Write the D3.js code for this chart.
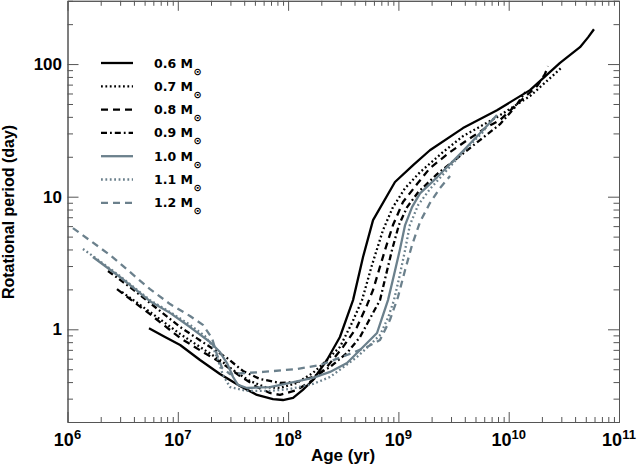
<!DOCTYPE html>
<html><head><meta charset="utf-8">
<script src="https://cdn.jsdelivr.net/npm/d3@7"></script>
<style>
body{margin:0;background:#fff}
svg{display:block}
text{font-family:"Liberation Sans",Arial,Helvetica,sans-serif;font-weight:bold;fill:#000}
</style>
</head><body>
<svg id="chart" width="638" height="465"></svg>
<script>
// ---- data (age in yr, rotational period in days) ----
const masses = ["0.6", "0.7", "0.8", "0.9", "1.0", "1.1", "1.2"];

const age06 = [5.48e6,7.66e6,1.05e7,1.59e7,2.41e7,3.66e7,5.22e7,7.29e7,8.99e7,1.11e8,1.36e8,1.68e8,2.25e8,2.95e8,3.88e8,4.78e8,5.89e8,9.31e8,1.36e9,1.93e9,3.85e9,7.83e9,1.56e10,2.92e10,4.43e10,5.24e10,5.93e10];
const per06 = [1.02,0.875,0.762,0.587,0.460,0.374,0.320,0.298,0.293,0.304,0.349,0.415,0.587,0.875,1.66,3.51,6.66,12.9,17.3,22.4,32.9,44.9,63.6,102,134,159,183];

const age07 = [3.12e6,5.60e6,1.05e7,1.59e7,2.41e7,3.44e7,4.51e7,6.17e7,8.44e7,1.20e8,1.68e8,2.16e8,2.95e8,3.80e8,4.68e8,5.76e8,7.25e8,8.93e8,1.15e9,1.57e9,2.54e9,3.85e9,7.83e9,1.56e10,2.37e10,3.04e10];
const per07 = [1.91,1.35,0.922,0.736,0.587,0.469,0.408,0.367,0.361,0.394,0.469,0.567,0.736,1.12,1.66,3.05,5.60,8.35,11.6,15.3,21.7,28.6,39.8,57.3,78.3,94.8];

const age08 = [2.81e6,5.60e6,1.05e7,1.69e7,2.57e7,3.66e7,5.22e7,6.85e7,8.44e7,1.20e8,1.68e8,2.25e8,3.15e8,4.21e8,5.19e8,5.89e8,6.67e8,7.56e8,8.93e8,1.10e9,1.47e9,1.93e9,2.94e9,4.46e9,6.36e9,8.34e9,1.27e10,1.81e10,2.13e10,2.27e10];
const per08 = [2.01,1.30,0.860,0.674,0.548,0.445,0.367,0.331,0.320,0.349,0.415,0.520,0.736,1.04,1.52,1.98,2.80,3.96,6.11,9.11,12.4,16.4,21.7,27.6,33.5,37.8,52.5,68.2,83.9,96.4];

const age09 = [2.33e6,3.69e6,5.60e6,1.05e7,1.84e7,2.79e7,3.90e7,5.56e7,8.44e7,1.20e8,1.68e8,2.40e8,3.42e8,4.49e8,5.89e8,6.81e8,7.72e8,8.75e8,1.01e9,1.20e9,1.51e9,2.24e9,3.40e9,5.49e9,8.34e9,1.14e10,1.41e10];
const per09 = [2.75,2.08,1.58,1.04,0.762,0.608,0.485,0.422,0.394,0.401,0.437,0.520,0.663,0.875,1.33,1.66,2.57,3.96,6.11,8.35,10.8,14.8,19.5,26.7,35.2,47.3,61.4];

const age10 = [1.70e6,2.99e6,5.60e6,8.50e6,1.29e7,1.96e7,2.41e7,2.79e7,3.17e7,3.51e7,4.24e7,6.85e7,1.04e8,1.68e8,2.40e8,3.42e8,4.68e8,6.40e8,7.25e8,8.05e8,9.12e8,1.03e9,1.15e9,1.33e9,1.57e9,2.24e9,3.85e9,5.49e9,7.83e9];
const per10 = [3.51,2.48,1.63,1.33,1.04,0.802,0.674,0.557,0.437,0.381,0.361,0.367,0.394,0.430,0.477,0.557,0.723,0.938,1.28,1.66,2.57,3.96,6.11,8.35,10.6,14.0,22.1,30.1,41.2];

const age11 = [1.38e6,1.70e6,2.99e6,5.60e6,8.50e6,1.29e7,1.76e7,2.08e7,2.31e7,2.57e7,2.97e7,4.24e7,6.85e7,1.04e8,1.68e8,2.40e8,3.28e8,4.21e8,5.53e8,6.81e8,8.05e8,9.12e8,1.03e9,1.15e9,1.27e9,1.51e9,1.93e9,2.65e9,3.85e9,6.10e9];
const per11 = [4.03,3.57,2.52,1.66,1.35,1.08,0.890,0.736,0.587,0.452,0.367,0.343,0.343,0.355,0.387,0.437,0.529,0.618,0.762,0.906,1.22,1.66,2.57,3.96,6.11,8.65,11.4,15.3,21.7,31.8];

const age12 = [1.12e6,2.43e6,5.60e6,8.50e6,1.29e7,1.69e7,2.04e7,2.27e7,2.52e7,2.97e7,4.24e7,5.92e7,1.20e8,1.95e8,3.42e8,5.19e8,6.81e8,8.39e8,9.91e8,1.15e9,1.33e9,1.57e9,1.93e9,2.38e9,2.94e9];
const per12 = [5.80,3.63,2.01,1.55,1.26,1.08,0.860,0.640,0.511,0.460,0.469,0.477,0.502,0.538,0.640,0.736,0.831,1.18,1.75,2.80,4.32,6.44,8.95,11.6,14.3];

// ---- axis tick values / labels ----
const xDomain = [1e6, 1e11];
const yDomain = [0.2, 300];
const xMajorTicks = [1e6, 1e7, 1e8, 1e9, 1e10, 1e11];
const xTickExponents = ["6", "7", "8", "9", "10", "11"];
const yMajorTicks = [1, 10, 100];
const yTickLabels = ["1", "10", "100"];
const xLabel = "Age (yr)";
const yLabel = "Rotational period (day)";

// ---- styles ----
const BLACK = "#000", GRAY = "#6b808c";
const styles = [
  {color: BLACK, dash: null},
  {color: BLACK, dash: "1.8,2.6"},
  {color: BLACK, dash: "7,5"},
  {color: BLACK, dash: "6,3,1.8,3"},
  {color: GRAY, dash: null},
  {color: GRAY, dash: "1.8,2.6"},
  {color: GRAY, dash: "7,5"}
];

const ages = [age06, age07, age08, age09, age10, age11, age12];
const pers = [per06, per07, per08, per09, per10, per11, per12];
const series = masses.map((m, i) => ({
  mass: m,
  points: ages[i].map((a, j) => ({age: a, p: pers[i][j]})),
  style: styles[i]
}));

const svg = d3.select("#chart");
const L = 67.5, R = 619, T = 0.8, B = 422;
const x = d3.scaleLog().domain(xDomain).range([L, R]);
const y = d3.scaleLog().domain(yDomain).range([B, T]);

// minor ticks
const xMinor = [];
for (let d = 1e6; d < 1e11; d *= 10) for (let k = 2; k <= 9; k++) xMinor.push(d * k);
const yMinor = [];
for (let d = 0.1; d < 300; d *= 10) for (let k = 1; k <= 9; k++) { const v = d * k; if (v >= 0.2 && v <= 300 && !yMajorTicks.some(t => Math.abs(t - v) < 1e-9)) yMinor.push(v); }

const axisColor = "#555";
function styleAxis(g) {
  g.selectAll("path.domain").attr("stroke", axisColor).attr("stroke-width", 1);
  g.selectAll(".tick line").attr("stroke", axisColor).attr("stroke-width", 1);
  g.selectAll(".tick text").remove();
}
// bottom
svg.append("g").attr("transform", `translate(0,${B})`).call(d3.axisBottom(x).tickValues(xMinor).tickSize(-5).tickSizeOuter(0).tickFormat("")).call(styleAxis);
svg.append("g").attr("transform", `translate(0,${B})`).call(d3.axisBottom(x).tickValues(xMajorTicks).tickSize(-10).tickSizeOuter(0).tickFormat("")).call(styleAxis);
// top
svg.append("g").attr("transform", `translate(0,${T})`).call(d3.axisTop(x).tickValues(xMinor).tickSize(-5).tickSizeOuter(0).tickFormat("")).call(styleAxis);
svg.append("g").attr("transform", `translate(0,${T})`).call(d3.axisTop(x).tickValues(xMajorTicks).tickSize(-10).tickSizeOuter(0).tickFormat("")).call(styleAxis);
// left
svg.append("g").attr("transform", `translate(${L},0)`).call(d3.axisLeft(y).tickValues(yMinor).tickSize(-5.5).tickSizeOuter(0).tickFormat("")).call(styleAxis);
svg.append("g").attr("transform", `translate(${L},0)`).call(d3.axisLeft(y).tickValues(yMajorTicks).tickSize(-11).tickSizeOuter(0).tickFormat("")).call(styleAxis);
// right
svg.append("g").attr("transform", `translate(${R},0)`).call(d3.axisRight(y).tickValues(yMinor).tickSize(-5.5).tickSizeOuter(0).tickFormat("")).call(styleAxis);
svg.append("g").attr("transform", `translate(${R},0)`).call(d3.axisRight(y).tickValues(yMajorTicks).tickSize(-11).tickSizeOuter(0).tickFormat("")).call(styleAxis);

// x tick labels 10^n
xMajorTicks.forEach((v, i) => {
  const t = svg.append("text").attr("x", x(v)).attr("y", 446).attr("text-anchor", "middle").attr("font-size", 18);
  t.append("tspan").text("10");
  t.append("tspan").attr("font-size", 13).attr("dy", -7).text(xTickExponents[i]);
});
// y tick labels
yMajorTicks.forEach((v, i) => {
  svg.append("text").attr("x", 62).attr("y", y(v) + 6).attr("text-anchor", "end").attr("font-size", 17).text(yTickLabels[i]);
});
// axis titles
svg.append("text").attr("x", 343).attr("y", 461).attr("text-anchor", "middle").attr("font-size", 17).text(xLabel);
svg.append("text").attr("transform", "translate(14,212) rotate(-90)").attr("text-anchor", "middle").attr("font-size", 16).text(yLabel);

// curves
const line = d3.line().x(d => x(d.age)).y(d => y(d.p));
const plot = svg.append("g");
series.forEach(s => {
  plot.append("path").datum(s.points)
    .attr("d", line)
    .attr("fill", "none")
    .attr("stroke", s.style.color)
    .attr("stroke-width", 2.3)
    .attr("stroke-linejoin", "round")
    .attr("stroke-dasharray", s.style.dash);
});

// legend
const leg = svg.append("g");
series.forEach((s, i) => {
  const yy = 63 + 23.3 * i;
  leg.append("line").attr("x1", 101).attr("x2", 133).attr("y1", yy).attr("y2", yy)
    .attr("stroke", s.style.color).attr("stroke-width", 2.3).attr("stroke-dasharray", s.style.dash);
  const t = leg.append("text").attr("x", 154).attr("y", yy + 4.5).attr("font-size", 12.5)
    .style("font-family", "'DejaVu Sans',sans-serif");
  t.append("tspan").text(s.mass + " M");
  t.append("tspan").attr("font-size", 10).attr("dy", 7).attr("dx", 0.5).text("\u2299");
});
</script>
</body></html>
